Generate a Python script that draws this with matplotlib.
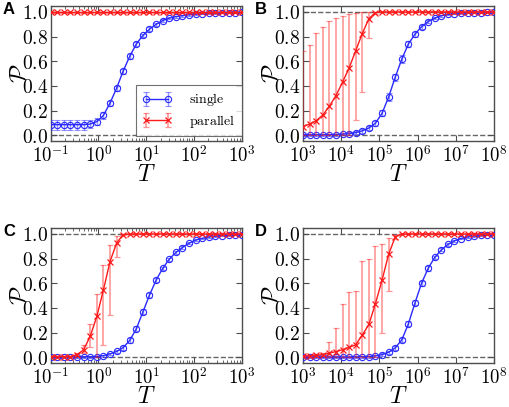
import numpy as np
import matplotlib
matplotlib.use('Agg')
import matplotlib.pyplot as plt

plt.rcParams['mathtext.fontset'] = 'cm'
plt.rcParams['xtick.direction'] = 'in'
plt.rcParams['ytick.direction'] = 'in'
plt.rcParams['xtick.top'] = True
plt.rcParams['ytick.right'] = True

# sampling grids (30 log-spaced points per panel)
T_short = np.logspace(-1, 3, 30)
T_long = np.logspace(3, 8, 30)

# ---- panel A ----
A_single = [0.085, 0.085, 0.085, 0.085, 0.085, 0.085, 0.09, 0.11, 0.16, 0.26,
            0.38, 0.52, 0.64, 0.74, 0.81, 0.86, 0.90, 0.93, 0.95, 0.962,
            0.97, 0.977, 0.982, 0.986, 0.989, 0.991, 0.993, 0.994, 0.995, 0.996]
A_single_err = [0.04, 0.04, 0.04, 0.04, 0.04, 0.04, 0.035, 0.03, 0.025, 0.02,
                0.02, 0.02, 0.02, 0.02, 0.015, 0.015, 0.012, 0.01, 0.01, 0.008,
                0.008, 0.006, 0.006, 0.005, 0.005, 0.004, 0.004, 0.004, 0.003, 0.003]
A_parallel = [0.997, 0.997, 0.997, 0.997, 0.997, 0.997, 0.997, 0.997, 0.997, 0.997,
              0.997, 0.997, 0.997, 0.997, 0.997, 0.997, 0.997, 0.997, 0.997, 0.997,
              0.997, 0.997, 0.997, 0.997, 0.997, 0.997, 0.997, 0.997, 0.997, 0.997]
A_par_low = [0.99, 0.99, 0.99, 0.99, 0.99, 0.99, 0.99, 0.99, 0.99, 0.99,
             0.99, 0.99, 0.99, 0.99, 0.99, 0.99, 0.99, 0.99, 0.99, 0.99,
             0.99, 0.99, 0.99, 0.99, 0.99, 0.99, 0.99, 0.99, 0.99, 0.99]
A_par_high = [1.0, 1.0, 1.0, 1.0, 1.0, 1.0, 1.0, 1.0, 1.0, 1.0,
              1.0, 1.0, 1.0, 1.0, 1.0, 1.0, 1.0, 1.0, 1.0, 1.0,
              1.0, 1.0, 1.0, 1.0, 1.0, 1.0, 1.0, 1.0, 1.0, 1.0]

# ---- panel B ----
B_single = [0.003, 0.003, 0.003, 0.003, 0.003, 0.005, 0.008, 0.012, 0.02, 0.035,
            0.058, 0.097, 0.177, 0.31, 0.47, 0.617, 0.74, 0.82, 0.88, 0.922,
            0.95, 0.97, 0.98, 0.986, 0.99, 0.992, 0.994, 0.995, 0.996, 0.997]
B_single_err = [0.008, 0.008, 0.008, 0.008, 0.008, 0.008, 0.01, 0.01, 0.012, 0.015,
                0.015, 0.02, 0.025, 0.03, 0.03, 0.03, 0.025, 0.02, 0.015, 0.012,
                0.01, 0.008, 0.006, 0.005, 0.005, 0.004, 0.004, 0.003, 0.003, 0.003]
B_parallel = [0.07, 0.09, 0.117, 0.163, 0.235, 0.32, 0.43, 0.545, 0.685, 0.825,
              0.945, 0.995, 1.0, 1.0, 1.0, 1.0, 1.0, 1.0, 1.0, 1.0,
              1.0, 1.0, 1.0, 1.0, 1.0, 1.0, 1.0, 1.0, 1.0, 1.0]
B_par_low = [0.0, 0.0, 0.0, 0.0, 0.0, 0.0, 0.0, 0.0, 0.12, 0.35,
             0.79, 0.985, 1.0, 1.0, 1.0, 1.0, 1.0, 1.0, 1.0, 1.0,
             1.0, 1.0, 1.0, 1.0, 1.0, 1.0, 1.0, 1.0, 1.0, 1.0]
B_par_high = [0.68, 0.73, 0.83, 0.88, 0.93, 0.955, 0.97, 0.985, 0.99, 1.0,
              1.0, 1.0, 1.0, 1.0, 1.0, 1.0, 1.0, 1.0, 1.0, 1.0,
              1.0, 1.0, 1.0, 1.0, 1.0, 1.0, 1.0, 1.0, 1.0, 1.0]

# ---- panel C ----
C_single = [0.003, 0.003, 0.003, 0.003, 0.003, 0.003, 0.003, 0.005, 0.012, 0.027,
            0.046, 0.077, 0.136, 0.23, 0.367, 0.503, 0.625, 0.72, 0.796, 0.85,
            0.89, 0.925, 0.95, 0.965, 0.975, 0.982, 0.987, 0.99, 0.992, 0.994]
C_single_err = [0.006, 0.006, 0.006, 0.006, 0.006, 0.006, 0.006, 0.006, 0.008, 0.01,
                0.012, 0.015, 0.018, 0.02, 0.02, 0.02, 0.018, 0.015, 0.012, 0.01,
                0.01, 0.008, 0.006, 0.005, 0.005, 0.004, 0.004, 0.003, 0.003, 0.003]
C_parallel = [0.005, 0.005, 0.005, 0.005, 0.02, 0.06, 0.17, 0.33, 0.545, 0.775,
              0.925, 0.995, 1.0, 1.0, 1.0, 1.0, 1.0, 1.0, 1.0, 1.0,
              1.0, 1.0, 1.0, 1.0, 1.0, 1.0, 1.0, 1.0, 1.0, 1.0]
C_par_low = [0.0, 0.0, 0.0, 0.0, 0.01, 0.03, 0.08, 0.0, 0.095, 0.34,
             0.81, 0.99, 1.0, 1.0, 1.0, 1.0, 1.0, 1.0, 1.0, 1.0,
             1.0, 1.0, 1.0, 1.0, 1.0, 1.0, 1.0, 1.0, 1.0, 1.0]
C_par_high = [0.01, 0.01, 0.01, 0.01, 0.03, 0.10, 0.27, 0.51, 0.75, 0.91,
              0.98, 1.0, 1.0, 1.0, 1.0, 1.0, 1.0, 1.0, 1.0, 1.0,
              1.0, 1.0, 1.0, 1.0, 1.0, 1.0, 1.0, 1.0, 1.0, 1.0]

# ---- panel D ----
D_single = [0.0, 0.0, 0.0, 0.0, 0.0, 0.0, 0.0, 0.001, 0.002, 0.003,
            0.005, 0.01, 0.02, 0.04, 0.075, 0.14, 0.27, 0.44, 0.60, 0.72,
            0.81, 0.87, 0.915, 0.945, 0.963, 0.975, 0.983, 0.988, 0.992, 0.994]
D_single_err = [0.006, 0.006, 0.006, 0.006, 0.006, 0.006, 0.006, 0.006, 0.006, 0.006,
                0.008, 0.008, 0.01, 0.012, 0.015, 0.018, 0.02, 0.02, 0.02, 0.018,
                0.015, 0.012, 0.01, 0.008, 0.006, 0.005, 0.004, 0.004, 0.003, 0.003]
D_parallel = [0.008, 0.01, 0.015, 0.02, 0.033, 0.045, 0.06, 0.08, 0.10, 0.18,
              0.265, 0.435, 0.625, 0.835, 0.975, 1.0, 1.0, 1.0, 1.0, 1.0,
              1.0, 1.0, 1.0, 1.0, 1.0, 1.0, 1.0, 1.0, 1.0, 1.0]
D_par_low = [0.0, 0.0, 0.005, 0.01, 0.0, 0.0, 0.0, 0.0, 0.0, 0.0,
             0.0, 0.0, 0.195, 0.54, 0.96, 1.0, 1.0, 1.0, 1.0, 1.0,
             1.0, 1.0, 1.0, 1.0, 1.0, 1.0, 1.0, 1.0, 1.0, 1.0]
D_par_high = [0.018, 0.02, 0.025, 0.03, 0.12, 0.24, 0.43, 0.53, 0.54, 0.78,
              0.80, 0.90, 0.915, 0.97, 0.99, 1.0, 1.0, 1.0, 1.0, 1.0,
              1.0, 1.0, 1.0, 1.0, 1.0, 1.0, 1.0, 1.0, 1.0, 1.0]

y_ticks = [0.0, 0.2, 0.4, 0.6, 0.8, 1.0]
y_ticklabels = [r'$0.0$', r'$0.2$', r'$0.4$', r'$0.6$', r'$0.8$', r'$1.0$']
short_ticks = [1e-1, 1e0, 1e1, 1e2, 1e3]
short_labels = [r'$10^{-1}$', r'$10^{0}$', r'$10^{1}$', r'$10^{2}$', r'$10^{3}$']
long_ticks = [1e3, 1e4, 1e5, 1e6, 1e7, 1e8]
long_labels = [r'$10^{3}$', r'$10^{4}$', r'$10^{5}$', r'$10^{6}$', r'$10^{7}$', r'$10^{8}$']

blue = '#2a2aff'
red = '#ff1a1a'

fig = plt.figure(figsize=(5.1, 4.07), dpi=100)
W, H = 510.0, 407.0
ax_w, ax_h = 191.0 / W, 135.5 / H
axA = fig.add_axes([50.7 / W, 1 - 141.3 / H, ax_w, ax_h])
axB = fig.add_axes([303.0 / W, 1 - 141.3 / H, ax_w, ax_h])
axC = fig.add_axes([50.7 / W, 1 - 363.3 / H, ax_w, ax_h])
axD = fig.add_axes([303.0 / W, 1 - 363.3 / H, ax_w, ax_h])


def draw_panel(ax, T, single, single_err, par, par_low, par_high, letter, ticks, labels):
    single = np.asarray(single)
    par = np.asarray(par)
    err_lo = par - np.asarray(par_low)
    err_hi = np.asarray(par_high) - par
    ax.axhline(0.0, color='0.4', ls='--', lw=1.0, zorder=1)
    ax.axhline(1.0, color='0.4', ls='--', lw=1.0, zorder=1)
    hs = ax.errorbar(T, single, yerr=single_err, color=blue, ecolor=(0.16, 0.16, 1.0, 0.5),
                     marker='o', mfc='none', mec=blue, ms=4.5, mew=0.8, lw=1.0,
                     elinewidth=1.0, capsize=2.5, capthick=1.0, label=r'$\mathrm{single}$',
                     zorder=3)
    hp = ax.errorbar(T, par, yerr=[err_lo, err_hi], color=red, ecolor=(1.0, 0.1, 0.1, 0.45),
                     marker='x', ms=4.5, mew=0.9, lw=1.0,
                     elinewidth=1.2, capsize=2.5, capthick=1.0, label=r'$\mathrm{parallel}$',
                     zorder=4)
    ax.set_xscale('log')
    ax.set_xlim(T[0], T[-1])
    ax.set_ylim(-0.05, 1.05)
    ax.set_xticks(ticks)
    ax.set_xticklabels(labels, fontsize=13.5)
    ax.set_yticks(y_ticks)
    ax.set_yticklabels(y_ticklabels, fontsize=14)
    ax.tick_params(which='major', length=4, width=0.8, color='0.3')
    ax.tick_params(which='minor', length=2, width=0.6, color='0.3')
    ax.tick_params(axis='x', pad=3)
    ax.tick_params(axis='y', pad=2)
    for s in ax.spines.values():
        s.set_color('0.3')
        s.set_linewidth(1.0)
    ax.set_xlabel(r'$T$', fontsize=17)
    ax.set_ylabel(r'$\mathcal{P}$', fontsize=17)
    ax.xaxis.set_label_coords(0.5, -0.155)
    ax.yaxis.set_label_coords(-0.105, 0.5)
    ax.text(-0.25, 1.03, letter, transform=ax.transAxes, fontsize=12, fontweight='bold',
            family='Liberation Sans', ha='left', va='top')
    return hs, hp


hs, hp = draw_panel(axA, T_short, A_single, A_single_err, A_parallel, A_par_low, A_par_high,
                    'A', short_ticks, short_labels)
draw_panel(axB, T_long, B_single, B_single_err, B_parallel, B_par_low, B_par_high,
           'B', long_ticks, long_labels)
draw_panel(axC, T_short, C_single, C_single_err, C_parallel, C_par_low, C_par_high,
           'C', short_ticks, short_labels)
draw_panel(axD, T_long, D_single, D_single_err, D_parallel, D_par_low, D_par_high,
           'D', long_ticks, long_labels)

leg = axA.legend(handles=[hs, hp], loc='lower right', bbox_to_anchor=(1.0, 0.04),
                 numpoints=2, fontsize=10, fancybox=False, handlelength=2.2,
                 handletextpad=1.2, borderaxespad=0.0, borderpad=0.45, labelspacing=0.3)
leg.get_frame().set_edgecolor('0.3')
leg.get_frame().set_linewidth(0.8)

fig.savefig('out.png', dpi=100)
